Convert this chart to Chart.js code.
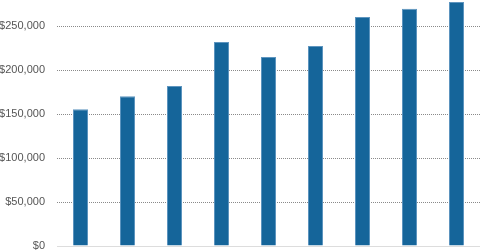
<!DOCTYPE html>
<html>
<head>
<meta charset="utf-8">
<script src="https://cdn.jsdelivr.net/npm/chart.js@4/dist/chart.umd.min.js"></script>
<style>
  html, body { margin: 0; padding: 0; background: #fff; }
  canvas { display: block; }
</style>
</head>
<body>
<canvas id="revenueChart" width="480" height="251"></canvas>
<script>
// data
const categories = ['1', '2', '3', '4', '5', '6', '7', '8', '9'];
const values = [155700, 170500, 182200, 232200, 215100, 227600, 260600, 270000, 277600];
const tickValues = [0, 50000, 100000, 150000, 200000, 250000];

const ctx = document.getElementById('revenueChart').getContext('2d');
new Chart(ctx, {
  type: 'bar',
  data: {
    labels: categories,
    datasets: [{
      data: values,
      backgroundColor: '#15659a',
      borderColor: '#5e95bf',
      borderWidth: 1,
      borderSkipped: 'bottom',
      barPercentage: 0.32,
      categoryPercentage: 1
    }]
  },
  options: {
    responsive: false,
    animation: false,
    layout: { padding: { top: 0, right: 0, bottom: 5, left: 0 } },
    plugins: {
      legend: { display: false },
      tooltip: { enabled: false }
    },
    scales: {
      x: {
        grid: { display: false },
        ticks: { display: false },
        afterFit: function(axis) {
          axis.height = 0;
          axis.paddingLeft = 0; axis.paddingRight = 0;
        },
        border: { display: true, color: '#dddddd', width: 1 }
      },
      y: {
        min: 0,
        max: 280000,
        afterBuildTicks: function(axis) {
          axis.ticks = tickValues.map(v => ({ value: v }));
        },
        afterFit: function(axis) {
          axis.width = 57;
          axis.paddingTop = 0; axis.paddingBottom = 0;
        },
        border: { display: false, dash: [1, 1] },
        grid: {
          drawTicks: false,
          color: function(c) {
            return c.tick && c.tick.value === 0 ? 'rgba(0,0,0,0)' : '#8a8a8a';
          }
        },
        ticks: {
          padding: 12,
          color: '#555555',
          font: { family: 'Liberation Sans, Arial, sans-serif', size: 11 },
          callback: function(value) {
            return '$' + value.toLocaleString('en-US');
          }
        }
      }
    }
  }
});
</script>
</body>
</html>
